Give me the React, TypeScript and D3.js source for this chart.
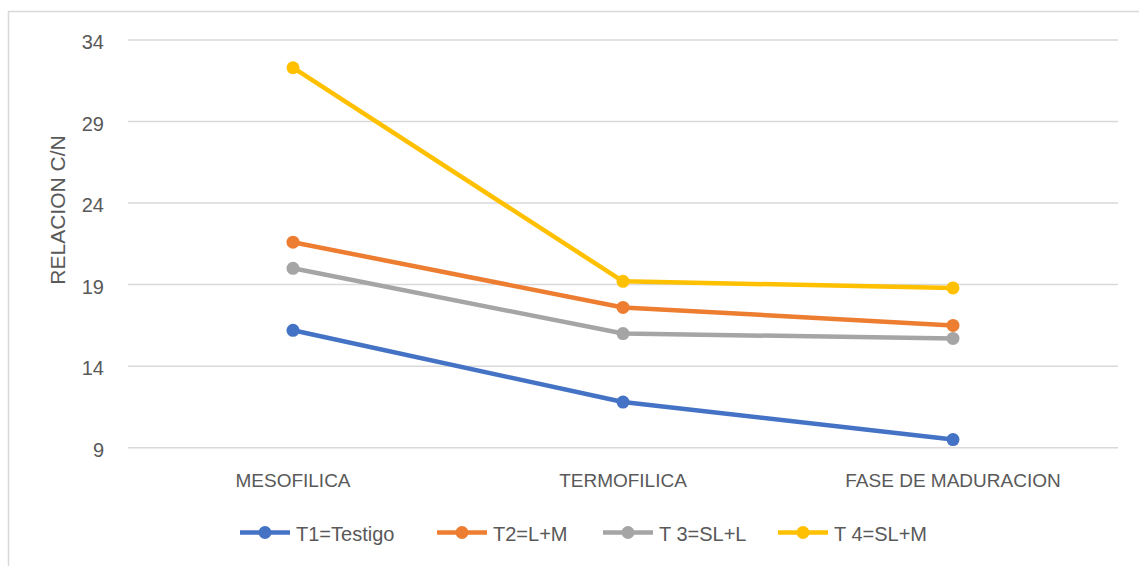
import React from "react";
import * as d3 from "d3";

const categories = ["MESOFILICA", "TERMOFILICA", "FASE DE MADURACION"];
const seriesNames = ["T1=Testigo", "T2=L+M", "T 3=SL+L", "T 4=SL+M"];
const t1Values = [16.2, 11.8, 9.5];
const t2Values = [21.6, 17.6, 16.5];
const t3Values = [20.0, 16.0, 15.7];
const t4Values = [32.3, 19.2, 18.8];
const yTicks = [9, 14, 19, 24, 29, 34];
const colors = ["#4472C4", "#ED7D31", "#A5A5A5", "#FFC000"];
const yTitle = "RELACION C/N";

const W = 1139;
const H = 566;
const plotLeft = 128;
const plotRight = 1118;
const plotTop = 40;
const plotBottom = 447.7;
const FONT = "'Liberation Sans', Arial, sans-serif";
const TEXT = "#595959";

export default function App() {
  const x = d3.scaleBand<string>().domain(categories).range([plotLeft, plotRight]);
  const y = d3.scaleLinear().domain([9, 34]).range([plotBottom, plotTop]);
  const series = [t1Values, t2Values, t3Values, t4Values];
  const line = d3
    .line<number>()
    .x((_, i) => (x(categories[i]) as number) + x.bandwidth() / 2)
    .y((d) => y(d));

  const legendX = [240, 437, 603, 778];
  const legendY = 532.5;

  return (
    <svg
      width={W}
      height={H}
      style={{ position: "absolute", left: 0, top: 0, background: "#fff" }}
    >
      <rect x={8.5} y={11.5} width={1200} height={700} fill="#fff" stroke="#D9D9D9" strokeWidth={1.5} />
      {yTicks.map((t) => (
        <g key={t}>
          <line x1={plotLeft} x2={plotRight} y1={y(t)} y2={y(t)} stroke="#D9D9D9" strokeWidth={1.5} />
          <text
            x={104}
            y={y(t) + 2}
            textAnchor="end"
            dominantBaseline="central"
            fontFamily={FONT}
            fontSize={20}
            fill={TEXT}
          >
            {t}
          </text>
        </g>
      ))}
      {categories.map((c) => (
        <text
          key={c}
          x={(x(c) as number) + x.bandwidth() / 2}
          y={487}
          textAnchor="middle"
          fontFamily={FONT}
          fontSize={19}
          fill={TEXT}
        >
          {c}
        </text>
      ))}
      <text
        transform={`translate(65,210) rotate(-90)`}
        textAnchor="middle"
        fontFamily={FONT}
        fontSize={21}
        fill={TEXT}
      >
        {yTitle}
      </text>
      {series.map((vals, si) => (
        <g key={si}>
          <path d={line(vals) || ""} fill="none" stroke={colors[si]} strokeWidth={4.5} strokeLinejoin="round" />
          {vals.map((v, i) => (
            <circle
              key={i}
              cx={(x(categories[i]) as number) + x.bandwidth() / 2}
              cy={y(v)}
              r={6.5}
              fill={colors[si]}
            />
          ))}
        </g>
      ))}
      {seriesNames.map((n, si) => (
        <g key={n}>
          <line
            x1={legendX[si]}
            x2={legendX[si] + 50}
            y1={legendY}
            y2={legendY}
            stroke={colors[si]}
            strokeWidth={4.5}
          />
          <circle cx={legendX[si] + 25} cy={legendY} r={6.5} fill={colors[si]} />
          <text
            x={legendX[si] + 56}
            y={legendY + 1}
            dominantBaseline="central"
            fontFamily={FONT}
            fontSize={20}
            fill={TEXT}
          >
            {n}
          </text>
        </g>
      ))}
    </svg>
  );
}
